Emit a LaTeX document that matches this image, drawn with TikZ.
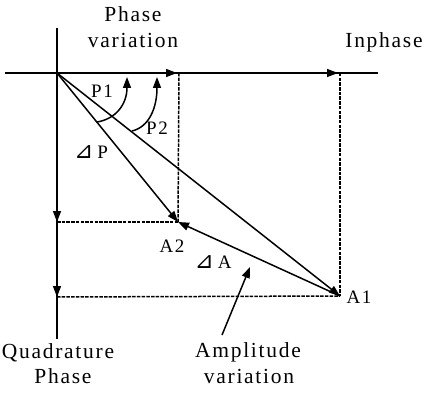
\documentclass[tikz,border=0pt]{standalone}
\usepackage{fontspec}
\setmainfont{Liberation Serif}[LetterSpace=8]
\newfontfamily\symfont{DejaVu Sans}
\usetikzlibrary{arrows.meta}
\tikzset{
  ln/.style={line width=1.5pt},
  arr/.style={ln,-{Triangle[length=11pt,width=8pt]}},
  dsh/.style={line width=1.5pt,dash pattern=on 3.5pt off 1.2pt},
  big/.style={anchor=base,inner sep=0pt,font=\fontsize{21.5}{25}\selectfont},
  lab/.style={anchor=base,inner sep=0pt,font=\fontsize{19}{22}\selectfont},
}
\newcommand{\trisym}{{\symfont\fontsize{23}{26}\selectfont ⊿}\hspace{4pt}}
\begin{document}
\begin{tikzpicture}[x=1pt,y=-1pt]
\useasboundingbox (0,0) rectangle (435,395);
% points
\coordinate (O) at (57,73);
\coordinate (Lend) at (5,73);
\coordinate (Rend) at (378,73);
\coordinate (Vtop) at (57,28);
\coordinate (Vbot) at (57,339);
\coordinate (H2) at (177,73);
\coordinate (H2d) at (179,73);
\coordinate (H1) at (338,73);
\coordinate (H1d) at (340,73);
\coordinate (V2) at (57,222);
\coordinate (V1) at (57,297);
\coordinate (A2) at (178,222);
\coordinate (A1) at (340,296);
\coordinate (P1s) at (97,122);
\coordinate (P1e) at (127,77);
\coordinate (P2s) at (132,131);
\coordinate (P2e) at (157,77);
\coordinate (AVs) at (222,335);
\coordinate (AVe) at (250,267);
% axes
\draw[ln] (Lend) -- (Rend);
\draw[ln] (Vtop) -- (Vbot);
\draw[arr] (O) -- (H2);
\draw[arr] (H2) -- (H1);
\draw[arr] (O) -- (V2);
\draw[arr] (V2) -- (V1);
% dashed projections
\draw[dsh] (H2d) -- (A2);
\draw[dsh] (V2) -- (A2);
\draw[dsh] (H1d) -- (A1);
\draw[dsh] (V1) -- (A1);
% vectors
\draw[arr] (O) -- (A2);
\draw[arr] (O) -- (A1);
\draw[arr] (A1) -- (A2);
% angle arcs
\draw[arr] (P1s) .. controls (116,119) and (127,104) .. (P1e);
\draw[arr] (P2s) .. controls (149,127) and (157,108) .. (P2e);
% amplitude pointer
\draw[arr] (AVs) -- (AVe);
% labels
\node[big] (tPh) at (133,22) {Phase};
\node[big] (tVa) at (133,48) {variation};
\node[big] (tIn) at (384,48) {Inphase};
\node[big] (tQu) at (58,358) {Quadrature};
\node[big] (tQp) at (63,383) {Phase};
\node[big] (tAm) at (248,357) {Amplitude};
\node[big] (tAv) at (249,383) {variation};
\node[lab] (lP1) at (102,98) {P1};
\node[lab] (lP2) at (157,135) {P2};
\node[lab] (lDP) at (91,158) {\trisym P};
\node[lab] (lA2) at (172,252) {A2};
\node[lab] (lDA) at (213,268) {\trisym A};
\node[lab] (lA1) at (359,303) {A1};
\end{tikzpicture}
\end{document}
